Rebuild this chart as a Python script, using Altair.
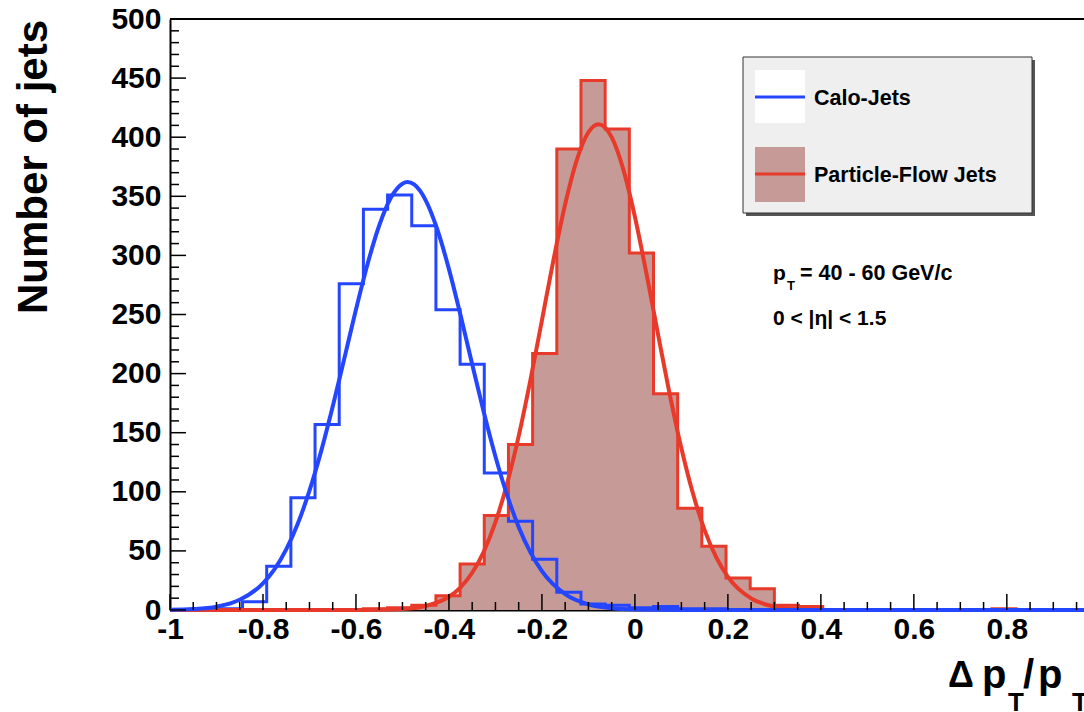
import altair as alt
import pandas as pd

# ---------------- data ----------------
bin_edges = [-1.000, -0.948, -0.896, -0.844, -0.792, -0.740, -0.688, -0.636, -0.584, -0.532,
             -0.480, -0.428, -0.376, -0.324, -0.272, -0.220, -0.168, -0.116, -0.064, -0.012,
             0.040, 0.092, 0.144, 0.196, 0.248, 0.300, 0.352, 0.404, 0.456, 0.508,
             0.560, 0.612, 0.664, 0.716, 0.768, 0.820, 0.872, 0.924, 0.976]

calo_counts = [0, 0, 1, 7, 37, 95, 157, 276, 339, 351,
               325, 254, 208, 116, 75, 43, 15, 5, 4, 2,
               3, 1, 1, 0, 0, 0, 0, 0, 0, 0,
               0, 0, 0, 0, 0, 0, 0, 0]

pf_counts = [0, 0, 0, 0, 0, 0, 0, 0, 1, 2,
             4, 12, 39, 80, 140, 217, 390, 448, 407, 302,
             183, 86, 54, 27, 18, 4, 3, 0, 0, 0,
             0, 0, 0, 0, 1, 0, 0, 0]

calo_fit_x = [-1.0, -0.95, -0.9, -0.85, -0.8, -0.775, -0.75, -0.725, -0.7, -0.675, -0.65, -0.625,
              -0.6, -0.575, -0.55, -0.525, -0.5, -0.489, -0.475, -0.45, -0.425, -0.4, -0.375,
              -0.35, -0.325, -0.3, -0.275, -0.25, -0.225, -0.2, -0.15, -0.1, -0.05, 0.0, 0.1,
              0.3, 0.5, 0.7, 0.966]
calo_fit_y = [0.2, 0.8, 2.8, 8.6, 22.6, 34.6, 51.3, 73.2, 100.9, 134.2, 172.1, 212.9,
              254.2, 292.8, 325.3, 348.8, 360.7, 362.0, 360.0, 346.6, 321.9, 288.4, 249.3,
              207.9, 167.3, 129.9, 97.3, 70.3, 49.0, 32.9, 13.4, 4.7, 1.4, 0.4, 0.0,
              0.0, 0.0, 0.0, 0.0]

pf_fit_x = [-1.0, -0.7, -0.6, -0.55, -0.5, -0.45, -0.4, -0.375, -0.35, -0.325, -0.3, -0.275,
            -0.25, -0.225, -0.2, -0.175, -0.15, -0.125, -0.1, -0.078, -0.05, -0.025, 0.0,
            0.025, 0.05, 0.075, 0.1, 0.125, 0.15, 0.175, 0.2, 0.25, 0.3, 0.35, 0.4, 0.5,
            0.7, 0.966]
pf_fit_y = [0.0, 0.0, 0.03, 0.2, 0.8, 3.4, 11.2, 19.2, 31.5, 49.4, 74.3, 106.8,
            147.1, 194.1, 245.1, 296.5, 343.3, 380.7, 404.2, 411.0, 400.0, 372.8, 332.7,
            284.3, 232.7, 182.3, 136.8, 98.3, 67.6, 44.5, 28.1, 9.8, 2.9, 0.7, 0.1, 0.0,
            0.0, 0.0]

x_major = [-1, -0.8, -0.6, -0.4, -0.2, 0, 0.2, 0.4, 0.6, 0.8]
x_minor = [-0.95, -0.9, -0.85, -0.75, -0.7, -0.65, -0.55, -0.5, -0.45, -0.35, -0.3, -0.25,
           -0.15, -0.1, -0.05, 0.05, 0.1, 0.15, 0.25, 0.3, 0.35, 0.45, 0.5, 0.55,
           0.65, 0.7, 0.75, 0.85, 0.9, 0.95]
y_major = [0, 50, 100, 150, 200, 250, 300, 350, 400, 450, 500]
y_minor = [10, 20, 30, 40, 60, 70, 80, 90, 110, 120, 130, 140, 160, 170, 180, 190,
           210, 220, 230, 240, 260, 270, 280, 290, 310, 320, 330, 340, 360, 370, 380, 390,
           410, 420, 430, 440, 460, 470, 480, 490]

# ---------------- styling ----------------
W, H = 914, 591
FONT = "Liberation Sans"
BLUE = "#2446ff"
RED = "#e83a2a"
FILL = "#c69a97"


def step_df(counts):
    return pd.DataFrame({"x": bin_edges, "y": list(counts) + [counts[-1]]})


x_scale = alt.Scale(domain=[-1, 0.966], nice=False, zero=False)
y_scale = alt.Scale(domain=[0, 500], nice=False)
x_axis = alt.Axis(values=x_major, labelExpr="'' + datum.value", title=None, grid=False,
                  ticks=False, tickSize=0, labelFont=FONT, labelFontSize=30,
                  labelFontWeight="bold", labelColor="black", labelPadding=4,
                  domainColor="black", domainWidth=2, labelOverlap=False, labelFlush=False)
y_axis = alt.Axis(values=y_major, format="d", title=None, grid=False, ticks=False, tickSize=0,
                  labelFont=FONT, labelFontSize=30, labelFontWeight="bold", labelColor="black",
                  labelPadding=9, domainColor="black", domainWidth=2, labelOverlap=False,
                  labelFlush=False)

X = lambda f: alt.X(f, scale=x_scale, axis=x_axis)
Y = lambda f: alt.Y(f, scale=y_scale, axis=y_axis)

pf_area = alt.Chart(step_df(pf_counts)).mark_area(
    interpolate="step-after", color=FILL, opacity=1).encode(x=X("x:Q"), y=Y("y:Q"))
pf_step = alt.Chart(step_df(pf_counts)).mark_line(
    interpolate="step-after", color=RED, strokeWidth=3).encode(x=X("x:Q"), y=Y("y:Q"))
calo_step = alt.Chart(step_df(calo_counts)).mark_line(
    interpolate="step-after", color=BLUE, strokeWidth=3).encode(x=X("x:Q"), y=Y("y:Q"))
pf_fit = alt.Chart(pd.DataFrame({"x": pf_fit_x, "y": pf_fit_y})).mark_line(
    interpolate="monotone", color=RED, strokeWidth=4).encode(x=X("x:Q"), y=Y("y:Q"))
calo_fit = alt.Chart(pd.DataFrame({"x": calo_fit_x, "y": calo_fit_y})).mark_line(
    interpolate="monotone", color=BLUE, strokeWidth=4).encode(x=X("x:Q"), y=Y("y:Q"))

xt_major = alt.Chart(pd.DataFrame({"v": x_major})).mark_rule(color="black", strokeWidth=1.5).encode(
    x=X("v:Q"), y=alt.value(H), y2=alt.value(H - 16))
xt_minor = alt.Chart(pd.DataFrame({"v": x_minor})).mark_rule(color="black", strokeWidth=1.5).encode(
    x=X("v:Q"), y=alt.value(H), y2=alt.value(H - 8))
yt_major = alt.Chart(pd.DataFrame({"v": y_major})).mark_rule(color="black", strokeWidth=1.5).encode(
    y=Y("v:Q"), x=alt.value(0), x2=alt.value(16))
yt_minor = alt.Chart(pd.DataFrame({"v": y_minor})).mark_rule(color="black", strokeWidth=1.5).encode(
    y=Y("v:Q"), x=alt.value(0), x2=alt.value(9))

one = pd.DataFrame({"a": [0]})
top_border = alt.Chart(one).mark_rule(color="black", strokeWidth=2).encode(
    x=alt.value(0), x2=alt.value(W), y=alt.value(0))


def box(x1, y1, x2, y2, **kw):
    return alt.Chart(one).mark_rect(**kw).encode(
        x=alt.value(x1), x2=alt.value(x2), y=alt.value(y1), y2=alt.value(y2))


def seg(x1, x2, y, color, w):
    return alt.Chart(one).mark_rule(color=color, strokeWidth=w).encode(
        x=alt.value(x1), x2=alt.value(x2), y=alt.value(y))


def txt(s, x, y, size, angle=0, align="left"):
    return alt.Chart(one).mark_text(
        text=s, align=align, baseline="alphabetic", font=FONT, fontWeight="bold",
        fontSize=size, color="black", angle=angle).encode(x=alt.value(x), y=alt.value(y))


legend = [
    box(576, 41, 865, 197, color="#555555"),
    box(573, 38, 862, 194, color="#efefef", stroke="#333333", strokeWidth=1),
    box(585, 51, 635, 104, color="white"),
    seg(585, 635, 78, BLUE, 3),
    txt("Calo-Jets", 644, 86, 21.5),
    box(585, 128, 635, 183, color=FILL),
    seg(585, 635, 155, RED, 3),
    txt("Particle-Flow Jets", 644, 163, 21.5),
]

notes = [
    txt("p", 603, 261, 21),
    txt("T", 617, 271, 13),
    txt("= 40 - 60 GeV/c", 630, 261, 21.5),
    txt("0 < |η| < 1.5", 603, 306, 21),
    txt("Number of jets", -123, 148, 42, angle=270, align="center"),
    txt("Δ", 778, 668, 36),
    txt("p", 812, 669, 40),
    txt("T", 838, 692, 26),
    txt("/", 853, 669, 40),
    txt("p", 868, 669, 40),
    txt("T", 902, 692, 26),
]

chart = alt.layer(
    pf_area, calo_step, pf_step, pf_fit, calo_fit,
    xt_major, xt_minor, yt_major, yt_minor, top_border,
    *legend, *notes
).properties(
    width=W, height=H,
    autosize=alt.AutoSizeParams(type="none"),
    padding={"left": 170, "top": 19, "right": 0, "bottom": 102},
    background="white",
).configure_view(stroke=None)

chart.save("out.html", embed_options={"renderer": "svg", "actions": False})
